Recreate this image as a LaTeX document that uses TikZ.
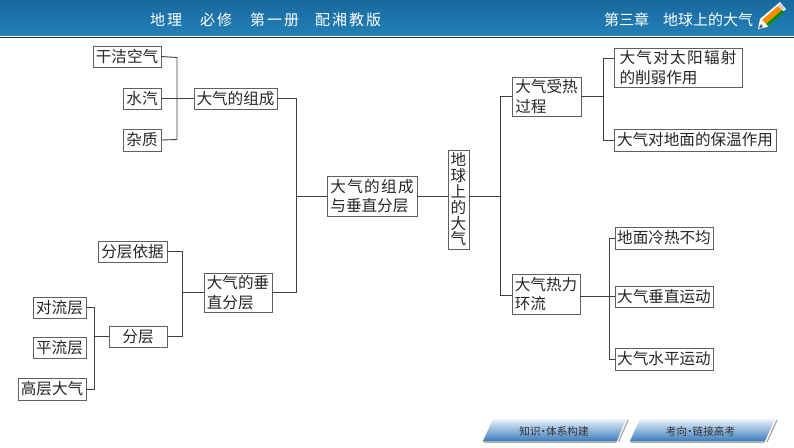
\documentclass[tikz,border=0pt]{standalone}
\usepackage{fontspec}
\setmainfont{Noto Sans CJK SC}
\definecolor{barB}{HTML}{2480B6}
\definecolor{barC}{HTML}{17699F}
\definecolor{boxedge}{HTML}{606060}
\definecolor{tabtop}{HTML}{EAF2FB}
\definecolor{tabbot}{HTML}{3B7CBE}
\tikzset{
 x=1pt,y=-1pt,
 cbox/.style={draw=boxedge,line width=0.9pt,inner sep=0pt,fill=white,font=\fontsize{15.6}{19.5}\selectfont,text=black!85,align=left},
 link/.style={draw=black!75,line width=0.9pt},
 tab/.style={top color=tabtop,bottom color=tabbot,draw=none},
 tabtxt/.style={font=\fontsize{10.6}{12}\selectfont,text=black!80,inner sep=0pt},
 headl/.style={text=white,font=\fontsize{15}{16}\selectfont,inner sep=0pt,anchor=west}
}
\newcommand{\bx}[7]{\node[cbox,minimum width=#4 pt-#2 pt,minimum height=#5 pt-#3 pt,#7] (#1) at ({(#2+#4)/2},{(#3+#5)/2}) {#6};}
\newcommand{\hg}{\hspace{2pt}}
\newcommand{\sg}{\hspace{1.3pt}}
\begin{document}
\begin{tikzpicture}
\useasboundingbox (0,0) rectangle (794,447);
\fill[white] (0,0) rectangle (794,447);
% header
\shade[top color=barC,bottom color=barB] (0,0) rectangle (794,36);
\fill[white] (0,35.5) rectangle (794,36.6);
\fill[black!85] (0,36.6) rectangle (794,38);
\node[headl] (h1) at (150,20) {地\hg 理};
\node[headl] (h2) at (200,20) {必\hg 修};
\node[headl] (h3) at (250,20) {第\hg 一\hg 册};
\node[headl] (h4) at (315,20) {配\hg 湘\hg 教\hg 版};
\node[headl] (h5) at (604,20) {第三章};
\node[headl] (h6) at (663,20) {地球上的大气};
% pencil
\fill[white] (758,29) -- (760,19) -- (780,2) -- (786,9) -- (767,27) -- cycle;
\fill[orange!90!yellow] (762,20) -- (778,6) -- (782,10) -- (766,24) -- cycle;
\fill[green!55!black] (766,24) -- (782,10) -- (784,12) -- (768,26) -- cycle;
\fill[gray!40] (778,6) -- (781,3.5) -- (785,8) -- (782,10) -- cycle;
\fill[black!70] (759,28) -- (761,24) -- (763,27) -- cycle;
% boxes
\bx{a1}{93}{46}{161}{67}{干洁空气}{}
\bx{a2}{123}{88}{161}{109}{水汽}{}
\bx{a3}{123}{129}{161}{151}{杂质}{}
\bx{b1}{194}{88}{277}{109}{大气的组成}{}
\bx{c1}{98}{241}{167}{262}{分层依据}{}
\bx{c2}{109}{326}{167}{347}{分层}{}
\bx{d1}{33}{297}{86}{318}{对流层}{}
\bx{d2}{33}{337}{86}{358}{平流层}{}
\bx{d3}{18}{378}{86}{400}{高层大气}{}
\bx{b2}{204}{273}{272}{312}{大气的垂\\直分层}{}
\bx{m}{327}{176}{417}{216}{大\sg 气\sg 的\sg 组\sg 成\\与垂直分层}{}
\bx{r}{448}{150}{469}{249}{地\\球\\上\\的\\大\\气}{font=\fontsize{15.6}{15.8}\selectfont,align=center}
\bx{e1}{512}{77}{581}{116}{大气受热\\过程}{}
\bx{e2}{512}{274}{580}{314}{大气热力\\环流}{}
\bx{f1}{614}{48}{742}{87}{大\sg 气\sg 对\sg 太\sg 阳\sg 辐\sg 射\\的削弱作用}{}
\bx{f2}{614}{129}{776}{151}{大气对地面的保温作用}{}
\bx{g1}{615}{227}{713}{249}{地面冷热不均}{}
\bx{g2}{615}{286}{713}{307}{大气垂直运动}{}
\bx{g3}{615}{348}{713}{370}{大气水平运动}{}
% junctions
\coordinate (ja1) at (177,57.5);
\coordinate (ja3) at (177,139.5);
\coordinate (jc1) at (182,251.5);
\coordinate (jc2) at (182,336.5);
\coordinate (jb2) at (182,292.5);
\coordinate (jd1) at (94,307.5);
\coordinate (jd3) at (94,389);
\coordinate (jdc) at (94,336.5);
\coordinate (jm1) at (296,98.5);
\coordinate (jm2) at (296,292.5);
\coordinate (jm) at (296,196);
\coordinate (jr1) at (500,96);
\coordinate (jr2) at (500,295);
\coordinate (jr) at (500,196);
\coordinate (jf0) at (603,96);
\coordinate (jf1) at (603,58);
\coordinate (jf2) at (603,140);
\coordinate (jg1) at (609,238);
\coordinate (jg3) at (609,359);
\coordinate (jg2) at (609,296);
% connectors
\draw[link] (a1.east) -- (ja1) -- (ja3) -- (a3.east);
\draw[link] (a2.east) -- (b1.west);
\draw[link] (c1.east) -- (jc1) -- (jc2) -- (c2.east);
\draw[link] (b2.west |- jb2) -- (jb2);
\draw[link] (d1.east) -- (jd1) -- (jd3) -- (d3.east |- jd3);
\draw[link] (jdc) -- (c2.west);
\draw[link] (b1.east) -- (jm1) -- (jm2) -- (b2.east |- jm2);
\draw[link] (jm) -- (m.west);
\draw[link] (m.east) -- (m.east -| r.west);
\draw[link] (m.east -| r.east) -- (jr);
\draw[link] (e1.west |- jr1) -- (jr1) -- (jr2) -- (e2.west |- jr2);
\draw[link] (e1.east |- jf0) -- (jf0);
\draw[link] (f1.west |- jf1) -- (jf1) -- (jf2) -- (f2.west);
\draw[link] (e2.east |- jg2) -- (g2.west |- jg2);
\draw[link] (g1.west) -- (jg1) -- (jg3) -- (g3.west);
% tabs
\fill[black!30] (483,441) -- (617,441) -- (616,443) -- (484,443) -- cycle;
\fill[black!30] (630,441) -- (765,441) -- (764,443) -- (631,443) -- cycle;
\shade[tab] (493,419) -- (626,419) -- (617,441) -- (483,441) -- cycle;
\shade[tab] (640,419) -- (775,419) -- (765,441) -- (630,441) -- cycle;
\draw[black!35,line width=1.2pt] (628,420) -- (618.5,442);
\draw[black!35,line width=1.2pt] (777,420) -- (767,442);
\node[tabtxt] (t1) at (554,431) {知识\hspace{-2.5pt}·\hspace{-2.5pt}体系构建};
\node[tabtxt] (t2) at (700.5,431) {考向\hspace{-2.5pt}·\hspace{-2.5pt}链接高考};
\end{tikzpicture}
\end{document}
